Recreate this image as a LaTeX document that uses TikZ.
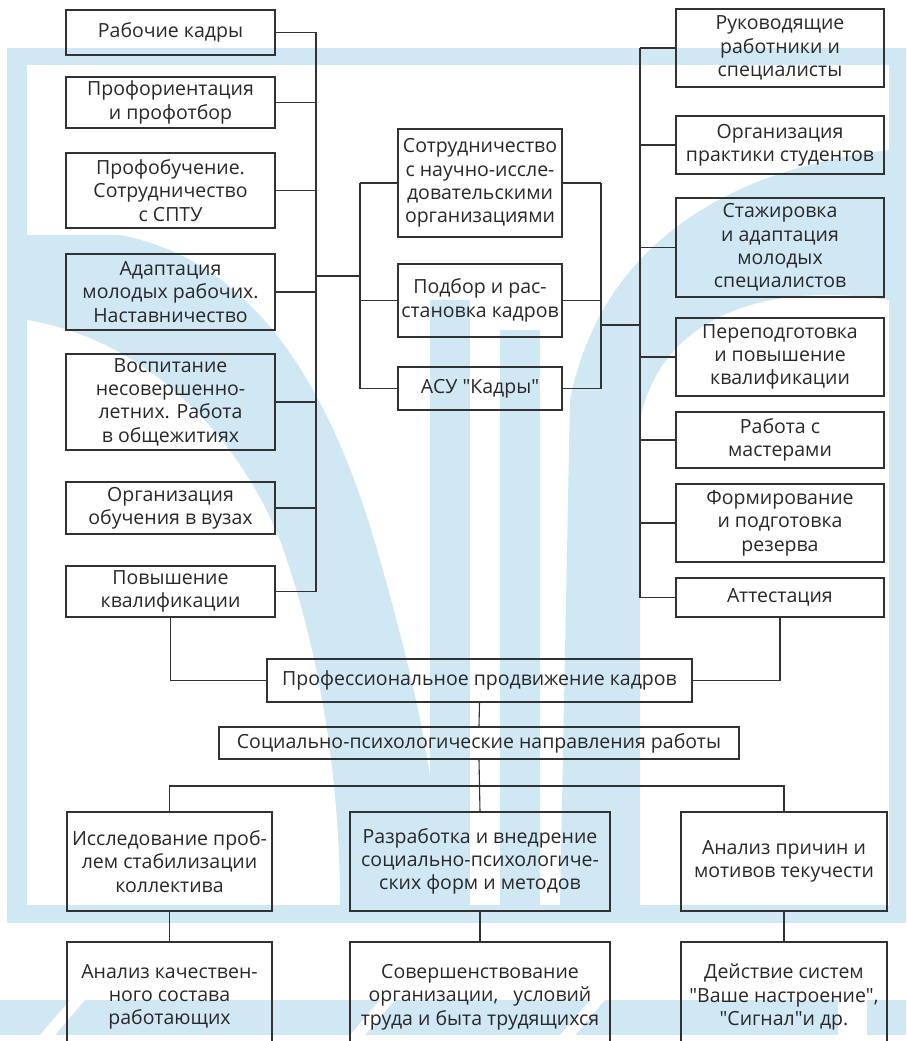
\documentclass[tikz,border=0pt]{standalone}
\usepackage{fontspec}
\setmainfont{Open Sans}
\newfontfamily\qfont{Open Sans}
\definecolor{wm}{RGB}{208,232,244}
\definecolor{linec}{RGB}{50,50,50}
\definecolor{txtc}{RGB}{40,40,40}
\newcommand{\dquote}{{\qfont"}}
\begin{document}
\begin{tikzpicture}[x=1pt,y=-1pt,
  box/.style={draw=linec, line width=1.1pt, inner sep=0pt, align=center, text=txtc,
    font=\fontsize{19.5}{23.3}\selectfont},
  conn/.style={draw=linec, line width=1.1pt},
  bg/.style={fill=wm, draw=none}]
\useasboundingbox (0,0) rectangle (906,1041);
\clip (0,0) rectangle (906,1041);
% ---------- watermark background ----------
\fill[wm] (7,48) rectangle (906,923);
\fill[white] (27,65) rectangle (889,905);
\begin{scope}
  \clip (27,65) rectangle (889,905);
  \path[bg] (27,235) -- (120,235) .. controls (250,260) and (330,380) .. (380,560)
     .. controls (420,700) and (440,800) .. (440,905) -- (340,905)
     .. controls (340,780) and (320,650) .. (280,540)
     .. controls (240,440) and (150,340) .. (27,320) -- cycle;
  \path[bg] (430,300) rectangle (470,905);
  \path[bg] (500,330) rectangle (540,905);
  \path[bg] (889,150) .. controls (720,170) and (600,250) .. (570,400) -- (560,905)
     -- (640,905) -- (640,420) .. controls (660,320) and (760,280) .. (889,300) -- cycle;
\end{scope}
\fill[wm] (0,1000) rectangle (906,1035);
\fill[white] (40,1035) -- (70,1000) -- (85,1000) -- (55,1035) -- cycle;
\fill[white] (350,1035) -- (380,1000) -- (395,1000) -- (365,1035) -- cycle;
\fill[white] (560,1035) -- (590,1000) -- (605,1000) -- (575,1035) -- cycle;
\fill[white] (838,1000) rectangle (867,1035);
% ---------- left column ----------
\node[box, minimum width=209, minimum height=45] (rk) at (170.5,32.5) {Рабочие кадры};
\node[box, minimum width=209, minimum height=51] (pp) at (170.5,102.5) {Профориентация\\и профотбор};
\node[box, minimum width=209, minimum height=75] (po) at (170.5,190.5) {Профобучение.\\Сотрудничество\\с СПТУ};
\node[box, minimum width=209, minimum height=76] (am) at (170.5,292) {Адаптация\\молодых рабочих.\\Наставничество};
\node[box, minimum width=209, minimum height=96] (vn) at (170.5,402) {Воспитание\\несовершенно-\\летних. Работа\\в общежитиях};
\node[box, minimum width=209, minimum height=52] (ov) at (170.5,508) {Организация\\обучения в вузах};
\node[box, minimum width=209, minimum height=51] (pk) at (170.5,591.5) {Повышение\\квалификации};
% ---------- centre column ----------
\node[box, minimum width=164, minimum height=108] (sn) at (480,183) {Сотрудничество\\с научно-иссле-\\довательскими\\организациями};
\node[box, minimum width=164, minimum height=73] (pr) at (480,300.5) {Подбор и рас-\\становка кадров};
\node[box, minimum width=164, minimum height=43] (asu) at (480,388.5) {АСУ \dquote Кадры\dquote};
% ---------- right column ----------
\node[box, minimum width=208, minimum height=78] (rr) at (780,48) {Руководящие\\работники и\\специалисты};
\node[box, minimum width=208, minimum height=58] (ops) at (780,145) {Организация\\практики студентов};
\node[box, minimum width=208, minimum height=99] (st) at (780,247.5) {Стажировка\\и адаптация\\молодых\\специалистов};
\node[box, minimum width=208, minimum height=78] (pe) at (780,357) {Переподготовка\\и повышение\\квалификации};
\node[box, minimum width=208, minimum height=56] (rm) at (780,440) {Работа с\\мастерами};
\node[box, minimum width=208, minimum height=78] (fp) at (780,523) {Формирование\\и подготовка\\резерва};
\node[box, minimum width=208, minimum height=39] (at) at (780,597.5) {Аттестация};
% ---------- lower part ----------
\node[box, minimum width=425, minimum height=43] (ppk) at (479.5,680.5) {Профессиональное продвижение кадров};
\node[box, minimum width=520, minimum height=32] (spn) at (479,743) {Социально-психологические направления работы};
\node[box, minimum width=205, minimum height=99] (ip) at (169.5,861.5) {Исследование проб-\\лем стабилизации\\коллектива};
\node[box, minimum width=260, minimum height=99] (rv) at (480,861.5) {Разработка и внедрение\\социально-психологиче-\\ских форм и методов};
\node[box, minimum width=206, minimum height=99] (ap) at (784,861.5) {Анализ причин и\\мотивов текучести};
\node[box, minimum width=205, minimum height=110] (ak) at (169.5,997) {Анализ качествен-\\ного состава\\работающих};
\node[box, minimum width=260, minimum height=110] (so) at (480,997) {Совершенствование\\организации,\ \ \ условий\\труда и быта трудящихся};
\node[box, minimum width=206, minimum height=110] (ds) at (784,997) {Действие систем\\\dquote Ваше настроение\dquote,\\\dquote Сигнал\dquote и др.};
% ---------- connectors ----------
\coordinate (lb) at (316,0);
\coordinate (clb) at (360,0);
\coordinate (crb) at (601,0);
\coordinate (rb) at (640,0);
\coordinate (j1) at (316,276);
\coordinate (j2) at (601,325);
\coordinate (hb) at (0,786);
\foreach \n in {rk,pp,po,am,vn,ov,pk} \draw[conn] (\n.east) -- (\n.east -| lb);
\draw[conn] (rk.east -| lb) -- (pk.east -| lb);
\draw[conn] (j1) -- (j1 -| clb);
\foreach \n in {sn,pr,asu} {
  \draw[conn] (\n.west) -- (\n.west -| clb);
  \draw[conn] (\n.east) -- (\n.east -| crb);
}
\draw[conn] (sn.west -| clb) -- (asu.west -| clb);
\draw[conn] (sn.east -| crb) -- (asu.east -| crb);
\draw[conn] (j2) -- (j2 -| rb);
\foreach \n in {rr,ops,st,pe,rm,fp,at} \draw[conn] (\n.west) -- (\n.west -| rb);
\draw[conn] (rr.west -| rb) -- (at.west -| rb);
\draw[conn] (pk.south) |- (ppk.west);
\draw[conn] (at.south) |- (ppk.east);
\draw[conn] (ppk.south) -- (spn.north);
\draw[conn] (spn.south) -- (rv.north);
\draw[conn] (ip.north) -- (ip.north |- hb) -- (ap.north |- hb) -- (ap.north);
\draw[conn] (ip.south) -- (ak.north);
\draw[conn] (rv.south) -- (so.north);
\draw[conn] (ap.south) -- (ds.north);
\end{tikzpicture}
\end{document}
